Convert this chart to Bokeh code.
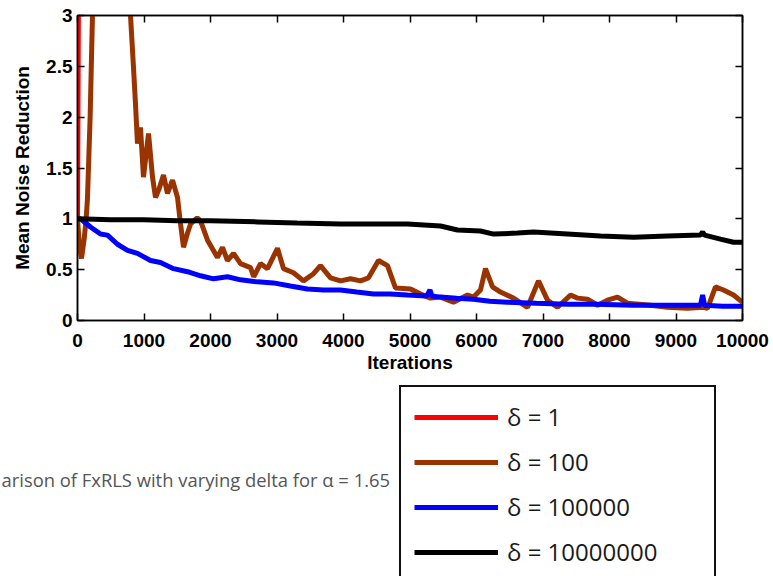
from bokeh.plotting import figure
from bokeh.layouts import column
from bokeh.models import (Range1d, FixedTicker, LinearAxis, Legend, LegendItem,
                          NumeralTickFormatter, Label, CustomJSTickFormatter)
from bokeh.embed import file_html
from bokeh.resources import INLINE

# ---- data ----
x_ticks = [0, 1000, 2000, 3000, 4000, 5000, 6000, 7000, 8000, 9000, 10000]
y_ticks = [0, 0.5, 1, 1.5, 2, 2.5, 3]

red_x = [0, 20, 40, 10000]
red_y = [1.0, 4.0, 60.0, 60.0]

brown_x = [0, 30, 60, 100, 130, 150, 190, 225, 300, 500, 700, 797, 842, 872, 902, 947,
           992, 1068, 1128, 1173, 1230, 1293, 1353, 1429, 1504, 1540, 1594, 1650, 1700,
           1800, 1850, 1955, 2105, 2180, 2255, 2346, 2451, 2601, 2650, 2752, 2857, 3007,
           3098, 3248, 3398, 3549, 3654, 3805, 3955, 4105, 4256, 4376, 4526, 4662, 4782,
           5008, 5158, 5308, 5459, 5654, 5865, 5955, 6060, 6135, 6241, 6361, 6556, 6767,
           6932, 7068, 7218, 7414, 7519, 7669, 7820, 7970, 8120, 8271, 8617, 8872, 9173,
           9414, 9474, 9594, 9714, 9865, 10000]
brown_y = [1.0, 0.72, 0.61, 0.8, 1.0, 1.2, 2.0, 3.0, 4.2, 5.0, 4.0, 3.0, 2.49, 2.13, 1.74, 1.90,
           1.41, 1.84, 1.41, 1.21, 1.30, 1.43, 1.25, 1.38, 1.21, 1.0, 0.72, 0.85, 0.95,
           1.01, 0.98, 0.79, 0.62, 0.72, 0.59, 0.66, 0.56, 0.52, 0.43, 0.56, 0.51, 0.71,
           0.51, 0.47, 0.39, 0.46, 0.54, 0.42, 0.39, 0.41, 0.39, 0.42, 0.59, 0.54, 0.32,
           0.31, 0.26, 0.22, 0.23, 0.18, 0.25, 0.23, 0.30, 0.51, 0.33, 0.28, 0.22, 0.13,
           0.39, 0.20, 0.13, 0.25, 0.22, 0.21, 0.15, 0.20, 0.23, 0.17, 0.15, 0.13, 0.12,
           0.13, 0.12, 0.33, 0.30, 0.25, 0.18]

blue_x = [0, 45, 195, 346, 451, 601, 752, 902, 1098, 1248, 1444, 1654, 1850, 2045, 2256,
          2451, 2707, 2947, 3200, 3459, 3700, 3955, 4200, 4451, 4700, 4962, 5250, 5300,
          5330, 5459, 5700, 5955, 6200, 6466, 6900, 7368, 7800, 8361, 8900, 9368, 9400,
          9430, 9700, 10000]
blue_y = [1.0, 1.0, 0.92, 0.85, 0.84, 0.75, 0.69, 0.66, 0.59, 0.57, 0.51, 0.48, 0.44, 0.41, 0.43,
          0.40, 0.38, 0.37, 0.34, 0.31, 0.30, 0.30, 0.28, 0.26, 0.26, 0.25, 0.24, 0.30,
          0.24, 0.23, 0.22, 0.21, 0.19, 0.18, 0.17, 0.16, 0.16, 0.15, 0.15, 0.15, 0.25,
          0.15, 0.14, 0.14]

black_x = [0, 500, 1000, 1500, 2000, 2707, 3300, 3955, 4962, 5459, 5714, 6060, 6256, 6617,
           6857, 7368, 7865, 8361, 8872, 9368, 9400, 9430, 9669, 9865, 10000]
black_y = [1.0, 0.99, 0.99, 0.98, 0.98, 0.97, 0.96, 0.95, 0.95, 0.93, 0.89, 0.88, 0.85, 0.86,
           0.87, 0.85, 0.83, 0.82, 0.83, 0.84, 0.87, 0.84, 0.80, 0.77, 0.77]

labels = ["δ = 1", "δ = 100", "δ = 100000", "δ = 10000000"]
colors = ["#ff0000", "#993300", "#0000ff", "#000000"]
caption = "arison of FxRLS with varying delta for α = 1.65"

LW = 5
FONT = "Liberation Sans"

# ---- main chart ----
p = figure(width=773, height=380, output_backend="svg", toolbar_location=None,
           x_range=Range1d(0, 10000), y_range=Range1d(0, 3),
           min_border_left=77, min_border_right=31, min_border_top=15,
           min_border_bottom=60, x_axis_label="Iterations",
           y_axis_label="Mean Noise Reduction")
p.grid.visible = False
p.outline_line_color = "black"
p.outline_line_width = 1.5
p.background_fill_color = "white"
p.border_fill_color = "white"

for ax in p.xaxis + p.yaxis:
    ax.major_tick_in = 7
    ax.major_tick_out = 0
    ax.minor_tick_line_color = None
    ax.axis_line_width = 1.5
    ax.major_tick_line_width = 1.5
    ax.major_label_text_font = FONT
    ax.major_label_text_font_style = "bold"
    ax.major_label_text_font_size = "19px"
    ax.major_label_text_color = "black"
    ax.axis_label_text_font = FONT
    ax.axis_label_text_font_style = "bold"
    ax.axis_label_text_font_size = "19px"
    ax.axis_label_text_color = "black"

p.xaxis.ticker = FixedTicker(ticks=x_ticks)
p.yaxis.ticker = FixedTicker(ticks=y_ticks)
p.yaxis.formatter = NumeralTickFormatter(format="0.[0]")
p.xaxis.major_label_standoff = 13
p.xaxis.axis_label_standoff = 2
p.yaxis.major_label_standoff = 5
p.yaxis.axis_label_standoff = 10

blank = CustomJSTickFormatter(code="return ''")
top = LinearAxis(ticker=FixedTicker(ticks=x_ticks), formatter=blank,
                 major_label_text_font_size="1px",
                 major_tick_in=7, major_tick_out=0, minor_tick_line_color=None,
                 axis_line_width=1.5, major_tick_line_width=1.5, major_label_standoff=0)
right = LinearAxis(ticker=FixedTicker(ticks=y_ticks), formatter=blank,
                   major_label_text_font_size="1px",
                   major_tick_in=7, major_tick_out=0, minor_tick_line_color=None,
                   axis_line_width=1.5, major_tick_line_width=1.5, major_label_standoff=0)
p.add_layout(top, "above")
p.add_layout(right, "right")

p.line(red_x, red_y, line_color=colors[0], line_width=LW)
p.line(brown_x, brown_y, line_color=colors[1], line_width=LW)
p.line(blue_x, blue_y, line_color=colors[2], line_width=LW)
p.line(black_x, black_y, line_color=colors[3], line_width=LW)

# ---- lower panel: caption and legend ----
q = figure(width=773, height=196, output_backend="svg", toolbar_location=None,
           x_range=Range1d(0, 773), y_range=Range1d(0, 196),
           min_border_left=0, min_border_right=0, min_border_top=0,
           min_border_bottom=0, x_axis_location=None, y_axis_location=None)
q.frame_align = False
q.grid.visible = False
q.outline_line_color = None
q.background_fill_color = "white"
q.border_fill_color = "white"

nan = float("nan")
items = []
for lab, col in zip(labels, colors):
    r = q.line([nan], [nan], line_color=col, line_width=LW)
    items.append(LegendItem(label=lab, renderers=[r]))

cap = Label(x=1, y=97, x_units="screen", y_units="screen", text=caption,
            text_font="Open Sans", text_font_size="18.4px", text_color="#555555",
            text_baseline="alphabetic", text_align="left")
q.add_layout(cap)

legend = Legend(items=items, location=(399, -7), glyph_width=84, glyph_height=20,
                label_height=20, spacing=12, padding=13, label_standoff=9,
                label_width=194, margin=0, border_line_color="#111111",
                border_line_width=2, border_line_alpha=1.0,
                background_fill_color="white",
                background_fill_alpha=1.0, label_text_font="Open Sans",
                label_text_font_size="24px", label_text_color="#1a1a1a")
q.add_layout(legend)

layout = column(p, q, spacing=0)
open("out.html", "w").write(file_html(layout, INLINE))
